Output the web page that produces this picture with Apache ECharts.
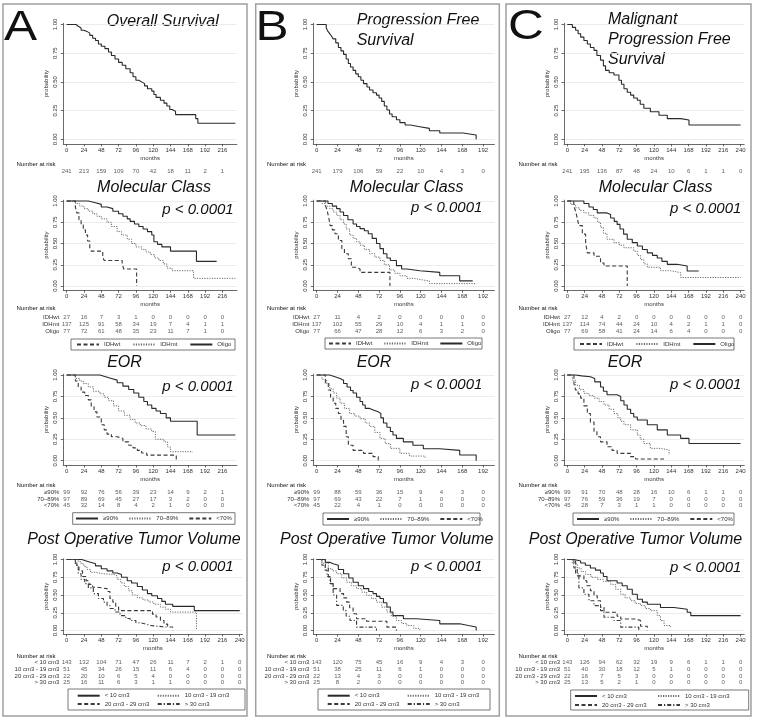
<!DOCTYPE html>
<html>
<head>
<meta charset="utf-8">
<script src="https://cdn.jsdelivr.net/npm/echarts@6/dist/echarts.min.js"></script>
<style>
  html, body { margin: 0; background: #fff; }
  #main { width: 758px; height: 722px; }
</style>
</head>
<body>
<div id="main"></div>
<script>
const FONT = '"Liberation Sans", Arial, sans-serif'
const INK = '#333'

// ticks
const yTicks = [0, 0.25, 0.5, 0.75, 1]
const ticks192 = [0, 24, 48, 72, 96, 120, 144, 168, 192]
const ticks216 = [0, 24, 48, 72, 96, 120, 144, 168, 192, 216]
const ticks240 = [0, 24, 48, 72, 96, 120, 144, 168, 192, 216, 240]

// groups
const molGroups = ['IDHwt', 'IDHmt', 'Oligo']
const eorGroups = ['≥90%', '70–89%', '<70%']
const volGroups = ['< 10 cm3', '10 cm3 - 19 cm3', '20 cm3 - 29 cm3', '> 30 cm3']
const molStyles = ['dash', 'dot', 'solid']
const eorStyles = ['solid', 'dot', 'dash']
const volStyles = ['solid', 'dot', 'dash', 'dashdot']

// A: overall survival  [months, probability]
const osAll = [[0,1],[13,0.985],[16,0.97],[20,0.95],[24,0.94],[28,0.925],[32,0.905],[36,0.88],[40,0.86],[44,0.83],[48,0.81],[53,0.79],[58,0.76],[62,0.73],[67,0.7],[72,0.67],[77,0.645],[82,0.615],[88,0.58],[92,0.545],[96,0.515],[100,0.5],[104,0.485],[108,0.465],[112,0.44],[118,0.42],[121,0.39],[124,0.365],[130,0.34],[135,0.315],[139,0.29],[143,0.26],[146,0.245],[151,0.215],[179,0.18],[182,0.14],[234,0.14]]
const osIDHwt = [[0,1],[12,0.93],[14,0.86],[17,0.78],[20,0.72],[23,0.66],[26,0.6],[29,0.53],[32,0.45],[34,0.41],[50,0.34],[52,0.3],[77,0.26],[79,0.2],[97,0]]
const osIDHmt = [[0,1],[12,0.97],[18,0.94],[24,0.91],[30,0.88],[36,0.85],[42,0.82],[48,0.79],[56,0.75],[62,0.7],[70,0.64],[76,0.6],[84,0.55],[90,0.5],[96,0.46],[104,0.43],[110,0.4],[116,0.37],[122,0.33],[128,0.3],[134,0.26],[139,0.21],[146,0.18],[176,0.09],[234,0.09]]
const osOligo = [[0,1],[30,0.98],[40,0.96],[48,0.93],[56,0.91],[64,0.88],[72,0.85],[78,0.82],[84,0.79],[88,0.76],[94,0.73],[100,0.7],[106,0.67],[112,0.64],[118,0.6],[121,0.52],[126,0.49],[132,0.46],[144,0.41],[180,0.29],[208,0.29]]
const osGe90 = [[0,1],[46,0.98],[54,0.96],[62,0.94],[70,0.91],[78,0.87],[86,0.83],[93,0.79],[100,0.74],[107,0.69],[112,0.65],[118,0.61],[124,0.58],[130,0.55],[138,0.5],[144,0.46],[181,0.3],[234,0.3]]
const os7089 = [[0,1],[12,0.96],[18,0.93],[23,0.9],[30,0.86],[37,0.81],[46,0.78],[52,0.74],[58,0.7],[65,0.64],[72,0.58],[80,0.53],[88,0.48],[95,0.44],[102,0.41],[110,0.37],[118,0.34],[123,0.25],[135,0.22],[140,0.16],[144,0.105],[175,0.105]]
const osLt70 = [[0,1],[12,0.93],[16,0.86],[20,0.8],[25,0.76],[30,0.71],[34,0.63],[38,0.57],[42,0.51],[48,0.42],[52,0.36],[56,0.31],[62,0.28],[70,0.26],[78,0.22],[86,0.18],[92,0.15],[98,0.12],[104,0.09],[111,0.065],[152,0]]
const osV10 = [[0,1],[21,0.98],[27,0.96],[33,0.94],[40,0.91],[48,0.87],[56,0.84],[64,0.81],[70,0.79],[76,0.75],[84,0.7],[90,0.67],[98,0.62],[105,0.57],[112,0.52],[118,0.49],[126,0.45],[132,0.41],[137,0.37],[147,0.34],[177,0.28],[240,0.28]]
const osV1019 = [[0,1],[16,0.97],[20,0.94],[24,0.9],[28,0.86],[33,0.82],[40,0.8],[50,0.79],[65,0.77],[70,0.72],[75,0.67],[80,0.62],[86,0.56],[91,0.5],[98,0.46],[106,0.43],[114,0.4],[121,0.37],[130,0.33],[137,0.3],[144,0.26],[180,0]]
const osV2029 = [[0,1],[14,0.92],[17,0.84],[22,0.76],[27,0.7],[31,0.65],[36,0.61],[42,0.59],[56,0.55],[60,0.45],[64,0.4],[68,0.33],[72,0.28],[119,0.23],[124,0.19],[130,0.14],[135,0.09],[140,0.05],[147,0]]
const osV30 = [[0,1],[12,0.92],[16,0.8],[20,0.72],[25,0.66],[30,0.6],[37,0.52],[44,0.45],[51,0.4],[56,0.35],[60,0.31],[67,0.26],[74,0.21],[82,0.17],[88,0.14],[96,0.11],[102,0.09],[110,0.07],[116,0.047],[140,0.047]]

// B: progression free survival
const pfsAll = [[0,1],[11,0.97],[13,0.94],[15,0.92],[17,0.9],[19,0.875],[22,0.84],[25,0.8],[28,0.77],[31,0.74],[34,0.7],[36.5,0.66],[39,0.63],[42,0.6],[45,0.57],[48,0.545],[51,0.515],[54,0.485],[58,0.455],[61,0.43],[65,0.405],[69,0.385],[72,0.36],[75,0.33],[78,0.29],[81,0.255],[84,0.22],[87,0.197],[92,0.17],[96,0.145],[102,0.125],[108,0.11],[119,0.095],[130,0.075],[142,0.055],[169,0.038],[184,0]]
const pfsIDHwt = [[0,1],[10,0.95],[12,0.89],[14,0.8],[15.5,0.71],[18,0.66],[21,0.615],[25,0.535],[29,0.44],[32,0.38],[36.5,0.32],[40,0.22],[46,0.2],[50,0.16],[84.5,0]]
const pfsIDHmt = [[0,1],[6,0.97],[10,0.94],[15,0.91],[19,0.87],[23,0.83],[27,0.78],[31,0.73],[34,0.67],[38,0.6],[42,0.56],[46,0.52],[50,0.48],[55,0.43],[61,0.38],[67,0.34],[73,0.3],[78,0.25],[84,0.19],[90,0.15],[96,0.12],[104,0.09],[112,0.07],[123,0.06],[130,0.028],[184,0.028]]
const pfsOligo = [[0,1],[13,0.97],[18,0.94],[23,0.91],[27,0.87],[31,0.83],[36,0.78],[42,0.73],[46,0.7],[50,0.675],[55,0.65],[59.5,0.615],[64,0.56],[69,0.5],[73,0.44],[77,0.38],[81,0.33],[85,0.3],[92,0.24],[98,0.2],[104,0.18],[119,0.16],[142,0.12],[165,0.06],[180,0.06]]
const pfsGe90 = [[0,1],[15,0.98],[21,0.96],[27,0.94],[31,0.9],[35,0.86],[39,0.82],[42,0.79],[46,0.74],[50,0.69],[53,0.65],[56,0.61],[61,0.59],[66,0.57],[71,0.55],[74,0.5],[77,0.44],[81,0.39],[85,0.34],[88,0.3],[92,0.26],[100,0.22],[111,0.18],[123,0.14],[142,0.12],[165,0.066],[184,0]]
const pfs7089 = [[0,1],[6,0.95],[11.5,0.9],[15,0.84],[19,0.79],[23,0.73],[27,0.67],[32,0.61],[38,0.55],[44,0.52],[50,0.49],[56,0.44],[61,0.4],[67,0.33],[73,0.26],[79,0.2],[85,0.144],[96,0.086],[107,0.054],[125,0.035]]
const pfsLt70 = [[0,1],[10,0.9],[13.4,0.825],[16,0.74],[19,0.67],[22,0.61],[25,0.55],[28,0.47],[31,0.4],[34,0.28],[36.5,0.18],[42,0.12],[54,0.086],[65,0.047],[71,0]]
const pfsV10 = [[0,1],[10,0.96],[15,0.94],[19,0.92],[25,0.86],[31,0.8],[37,0.74],[42,0.68],[48,0.63],[54,0.59],[60,0.55],[65,0.52],[69,0.48],[73,0.45],[77,0.39],[81,0.33],[85,0.26],[88,0.21],[100,0.165],[115,0.14],[142,0.094],[165,0.07],[175,0.05],[184,0]]
const pfsV1019 = [[0,1],[6,0.95],[13.4,0.87],[18,0.84],[23,0.8],[29,0.74],[34.6,0.68],[40,0.63],[46,0.59],[52,0.54],[57.6,0.495],[63,0.45],[69,0.4],[75,0.33],[81,0.26],[86,0.2],[92,0.14],[98,0.1],[104,0.07],[112,0.03],[119,0.01]]
const pfsV2029 = [[0,1],[10,0.88],[13.4,0.755],[16,0.66],[19,0.59],[27,0.52],[31,0.46],[34.6,0.4],[38,0.32],[42,0.235],[46,0.165],[57.6,0.13],[81,0.047],[92,0]]
const pfsV30 = [[0,1],[6,0.92],[9.6,0.85],[12,0.76],[15.4,0.66],[19,0.5],[23,0.354],[30.7,0.28],[34,0.2],[38.4,0.14],[46,0.047],[69,0]]

// C: malignant progression free survival
const mpfsAll = [[0,1],[7,0.975],[11.5,0.95],[15,0.92],[18.5,0.89],[23,0.86],[27.7,0.83],[32,0.8],[37,0.775],[41,0.73],[46,0.69],[50,0.64],[53,0.6],[58,0.58],[64.6,0.56],[71.5,0.515],[75,0.48],[78.5,0.44],[83,0.41],[87.7,0.385],[92,0.36],[97,0.34],[101,0.305],[106,0.27],[115,0.24],[127,0.21],[138.5,0.18],[157,0.168],[168.5,0.124],[240,0.124]]
const mpfsIDHwt = [[0,1],[9,0.94],[11.5,0.88],[14,0.79],[16,0.71],[20.8,0.61],[25.4,0.51],[27.7,0.39],[37,0.35],[46,0.27],[50.8,0.235],[83,0]]
const mpfsIDHmt = [[0,1],[4.6,0.96],[11.5,0.92],[17,0.89],[23,0.86],[30,0.83],[37,0.8],[42,0.75],[46,0.69],[50,0.62],[55,0.55],[64.6,0.51],[72,0.48],[78.5,0.45],[92,0.41],[97,0.36],[101.5,0.31],[106,0.26],[110.8,0.22],[129,0.18],[143,0.157],[157,0.1],[240,0.1]]
const mpfsOligo = [[0,1],[23,0.97],[30,0.93],[36,0.9],[41.5,0.86],[55,0.84],[60,0.8],[65,0.76],[69,0.725],[73,0.67],[78,0.61],[83,0.55],[90,0.51],[97,0.47],[104,0.43],[110.8,0.39],[118,0.36],[124.6,0.33],[131,0.29],[138.5,0.255],[152,0.235],[166,0.176],[182,0.176]]
const mpfsGe90 = [[0,1],[11.5,0.99],[20,0.98],[32,0.96],[38,0.92],[46,0.86],[50,0.81],[55,0.77],[69,0.75],[74,0.7],[78.5,0.65],[83,0.6],[87.7,0.55],[92,0.51],[97,0.475],[110.8,0.42],[124.6,0.36],[138.5,0.3],[157,0.26],[168.5,0.2],[240,0.2]]
const mpfs7089 = [[0,1],[7,0.94],[11.5,0.88],[17,0.83],[23,0.786],[30,0.76],[37,0.73],[44,0.69],[50.8,0.65],[58,0.6],[64.6,0.55],[70,0.5],[74,0.46],[78.5,0.42],[87.7,0.36],[97,0.3],[101,0.25],[106,0.2],[115,0.144],[129,0.125],[141,0.066]]
const mpfsLt70 = [[0,1],[9.2,0.9],[11.5,0.825],[15,0.78],[18.5,0.73],[23,0.64],[27.7,0.55],[32,0.45],[37,0.34],[41,0.28],[46,0.22],[55,0.163],[62,0.12],[69,0.086],[87.7,0.047],[94.6,0.02],[134,0.02]]
const mpfsV10 = [[0,1],[9.2,0.98],[18.5,0.95],[25,0.92],[32,0.88],[39,0.85],[46,0.81],[50,0.76],[55,0.7],[69,0.67],[76,0.63],[83,0.58],[90,0.51],[97,0.44],[104,0.4],[110.8,0.37],[129,0.325],[147.7,0.3],[166,0.256],[171,0.21],[240,0.21]]
const mpfsV1019 = [[0,1],[7,0.94],[13.8,0.88],[19,0.83],[25.4,0.79],[33,0.75],[41.5,0.72],[50,0.69],[60,0.65],[67,0.58],[74,0.51],[80,0.46],[87.7,0.42],[94,0.38],[101.5,0.35],[108,0.31],[115,0.28],[124.6,0.21],[129,0.14],[134,0.07],[143,0.047]]
const mpfsV2029 = [[0,1],[9.2,0.88],[13.8,0.77],[23,0.7],[27,0.63],[32,0.56],[37,0.49],[41.5,0.42],[46,0.326],[50.8,0.256],[69,0.2],[74,0.163],[94.6,0.14],[101.5,0.06],[110.8,0]]
const mpfsV30 = [[0,1],[11.5,0.8],[16,0.6],[23,0.51],[30,0.42],[37,0.35],[46,0.28],[50.8,0.186],[64.6,0.14],[74,0.047],[99,0]]

// number at risk
const riskOs = [[241, 213, 159, 109, 70, 42, 18, 11, 2, 1]]
const riskOsMol = [[27,16,7,3,1,0,0,0,0,0],[137,125,91,58,34,19,7,4,1,1],[77,72,61,48,35,23,11,7,1,0]]
const riskOsEor = [[99,92,76,56,39,23,14,9,2,1],[97,89,69,45,27,17,3,2,0,0],[45,32,14,8,4,2,1,0,0,0]]
const riskOsVol = [[143,132,104,71,47,26,11,7,2,1,0],[51,45,34,26,15,11,6,4,0,0,0],[22,20,10,6,5,4,0,0,0,0,0],[25,16,11,6,3,1,1,0,0,0,0]]
const riskPfs = [[241, 179, 106, 59, 22, 10, 4, 3, 0]]
const riskPfsMol = [[27,11,4,2,0,0,0,0,0],[137,102,55,29,10,4,1,1,0],[77,66,47,28,12,6,3,2,0]]
const riskPfsEor = [[99,88,59,36,15,9,4,3,0],[97,69,43,22,7,1,0,0,0],[45,22,4,1,0,0,0,0,0]]
const riskPfsVol = [[143,120,75,45,16,9,4,3,0],[51,38,25,11,6,1,0,0,0],[22,13,4,3,0,0,0,0,0],[25,8,2,0,0,0,0,0,0]]
const riskMpfs = [[241, 195, 136, 87, 48, 24, 10, 6, 1, 1, 0]]
const riskMpfsMol = [[27,12,4,2,0,0,0,0,0,0,0],[137,114,74,44,24,10,4,2,1,1,0],[77,69,58,41,24,14,6,4,0,0,0]]
const riskMpfsEor = [[99,91,70,48,28,16,10,6,1,1,0],[97,76,59,36,19,7,0,0,0,0,0],[45,28,7,3,1,1,0,0,0,0,0]]
const riskMpfsVol = [[143,126,94,62,32,19,9,6,1,1,0],[51,40,30,18,12,5,1,0,0,0,0],[22,16,7,5,3,0,0,0,0,0,0],[25,13,5,2,1,0,0,0,0,0,0]]

const LINE = {
  solid: { color: '#2a2a2a', width: 1.1, type: 'solid' },
  dot: { color: '#6a6a6a', width: 1, type: [1.2, 1.3] },
  dash: { color: '#3a3a3a', width: 1.1, type: [4, 2.5] },
  dashdot: { color: '#3a3a3a', width: 1.1, type: [4, 2, 1.2, 2] },
}

// layout
const Y_MAX = 1.01
const cols = {
  A: { left: 63.3, zero: 66.7, ppm: 17.3 / 24, head: 16.5 },
  B: { left: 313.3, zero: 316.7, ppm: 20.8 / 24, head: 267 },
  C: { left: 564, zero: 567.3, ppm: 17.33 / 24, head: 518.5 },
}
const rows = [
  { y1: 24.5, unit: 114.8, yMin: -0.04, head: 164, risk: 171.8, step: 7 },
  { y1: 201, unit: 85, yMin: -0.05, head: 308.5, risk: 317, step: 7 },
  { y1: 375, unit: 85.7, yMin: -0.05, head: 485.3, risk: 492.2, step: 6.8 },
  { y1: 559.5, unit: 71, yMin: -0.05, head: 656.5, risk: 662.8, step: 6.67 },
]

const panels = [
  { col: 'A', row: 0, xMax: 236, ticks: ticks216, curves: [osAll], names: ['OS'], styles: ['solid'], groups: [''], risk: riskOs },
  { col: 'B', row: 0, xMax: 205, ticks: ticks192, curves: [pfsAll], names: ['PFS'], styles: ['solid'], groups: [''], risk: riskPfs },
  { col: 'C', row: 0, xMax: 245, ticks: ticks240, curves: [mpfsAll], names: ['MPFS'], styles: ['solid'], groups: [''], risk: riskMpfs },

  { col: 'A', row: 1, xMax: 236, ticks: ticks216, curves: [osIDHwt, osIDHmt, osOligo], names: molGroups, styles: molStyles, groups: molGroups, risk: riskOsMol,
    box: [71, 339, 164, 11], legends: [{ data: molGroups, left: 76, cy: 344.5, gap: 12 }] },
  { col: 'B', row: 1, xMax: 205, ticks: ticks192, curves: [pfsIDHwt, pfsIDHmt, pfsOligo], names: molGroups, styles: molStyles, groups: molGroups, risk: riskPfsMol,
    box: [325, 338, 157, 11], legends: [{ data: molGroups, left: 328, cy: 343.5, gap: 11 }] },
  { col: 'C', row: 1, xMax: 245, ticks: ticks240, curves: [mpfsIDHwt, mpfsIDHmt, mpfsOligo], names: molGroups, styles: molStyles, groups: molGroups, risk: riskMpfsMol,
    box: [574, 338, 160, 12], legends: [{ data: molGroups, left: 579, cy: 344, gap: 12 }] },

  { col: 'A', row: 2, xMax: 236, ticks: ticks216, curves: [osGe90, os7089, osLt70], names: eorGroups, styles: eorStyles, groups: eorGroups, risk: riskOsEor,
    box: [72.7, 512.7, 162.3, 11.6], legends: [{ data: eorGroups, left: 75, cy: 518.5, gap: 10 }] },
  { col: 'B', row: 2, xMax: 205, ticks: ticks192, curves: [pfsGe90, pfs7089, pfsLt70], names: eorGroups, styles: eorStyles, groups: eorGroups, risk: riskPfsEor,
    box: [323, 513, 157, 12], legends: [{ data: eorGroups, left: 326, cy: 519, gap: 10 }] },
  { col: 'C', row: 2, xMax: 245, ticks: ticks240, curves: [mpfsGe90, mpfs7089, mpfsLt70], names: eorGroups, styles: eorStyles, groups: eorGroups, risk: riskMpfsEor,
    box: [573, 513, 161, 12], legends: [{ data: eorGroups, left: 576, cy: 519, gap: 10 }] },

  { col: 'A', row: 3, xMax: 244, ticks: ticks240, curves: [osV10, osV1019, osV2029, osV30], names: volGroups, styles: volStyles, groups: volGroups, risk: riskOsVol,
    box: [68, 689, 177, 21], legends: [
      { data: [volGroups[0], volGroups[2]], left: 76.7, cy: 695.7, orient: 'vertical', gap: 2.3 },
      { data: [volGroups[1], volGroups[3]], left: 156.7, cy: 695.7, orient: 'vertical', gap: 2.3 }] },
  { col: 'B', row: 3, xMax: 205, ticks: ticks192, curves: [pfsV10, pfsV1019, pfsV2029, pfsV30], names: volGroups, styles: volStyles, groups: volGroups, risk: riskPfsVol,
    box: [318, 689, 172, 21], legends: [
      { data: [volGroups[0], volGroups[2]], left: 326.7, cy: 695.7, orient: 'vertical', gap: 2.3 },
      { data: [volGroups[1], volGroups[3]], left: 406.7, cy: 695.7, orient: 'vertical', gap: 2.3 }] },
  { col: 'C', row: 3, xMax: 245, ticks: ticks240, curves: [mpfsV10, mpfsV1019, mpfsV2029, mpfsV30], names: volGroups, styles: volStyles, groups: volGroups, risk: riskMpfsVol,
    box: [570.7, 690, 178, 20], legends: [
      { data: [volGroups[0], volGroups[2]], left: 574, cy: 696, orient: 'vertical', gap: 3 },
      { data: [volGroups[1], volGroups[3]], left: 657, cy: 696, orient: 'vertical', gap: 3 }] },
]

const small = { fontSize: 6, color: INK, fontFamily: FONT }

function text(str, x, y, font, align, extra) {
  return Object.assign({
    type: 'text', silent: true,
    style: { text: str, x, y, font, fill: '#111', textAlign: align || 'left', align: align || 'left',
      textVerticalAlign: 'middle', verticalAlign: 'middle' },
  }, extra || {})
}

const grid = [], xAxis = [], yAxis = [], series = [], legend = []
const els = []
let gi = 0

panels.forEach(p => {
  const c = cols[p.col], r = rows[p.row]
  const xMin = -(c.zero - c.left) / c.ppm
  const width = (p.xMax - xMin) * c.ppm

  // survival plot
  grid.push({ left: c.left, top: r.y1 - (Y_MAX - 1) * r.unit, width, height: (Y_MAX - r.yMin) * r.unit, outerBoundsMode: 'none' })
  xAxis.push({
    gridIndex: gi, type: 'value', min: xMin, max: p.xMax,
    name: 'months', nameLocation: 'middle', nameGap: 11, nameTextStyle: small,
    axisLine: { show: true, onZero: false, lineStyle: { color: '#444', width: 0.8 } },
    axisTick: { show: true, length: 2.5, customValues: p.ticks, lineStyle: { color: '#444', width: 0.8 } },
    axisLabel: Object.assign({ customValues: p.ticks, margin: 3 }, small),
    splitLine: { show: false },
  })
  yAxis.push({
    gridIndex: gi, type: 'value', min: r.yMin, max: Y_MAX,
    name: 'probability', nameLocation: 'middle', nameGap: 14, nameRotate: 90, nameTextStyle: small,
    axisLine: { show: true, onZero: false, lineStyle: { color: '#444', width: 0.8 } },
    axisTick: { show: true, length: 2.5, customValues: yTicks, lineStyle: { color: '#444', width: 0.8 } },
    axisLabel: Object.assign({ customValues: yTicks, rotate: 90, margin: 5, formatter: v => v.toFixed(2) }, small),
    splitLine: { show: true, lineStyle: { color: '#e2e8ec', width: 0.8 } },
  })
  p.curves.forEach((d, k) => series.push({
    type: 'line', name: p.names[k], xAxisIndex: gi, yAxisIndex: gi, data: d,
    step: 'end', symbol: 'none', showSymbol: false, silent: true,
    lineStyle: LINE[p.styles[k]],
  }))
  gi++

  // number at risk table
  grid.push({ left: c.left, top: r.risk - r.step / 2, width, height: p.groups.length * r.step, outerBoundsMode: 'none' })
  xAxis.push({ gridIndex: gi, type: 'value', min: xMin, max: p.xMax, show: false })
  yAxis.push({
    gridIndex: gi, type: 'category', data: p.groups, inverse: true,
    axisLine: { show: false }, axisTick: { show: false }, splitLine: { show: false },
    axisLabel: Object.assign({ interval: 0, margin: 4 }, small),
  })
  const cells = []
  p.risk.forEach((vals, ri) => vals.forEach((v, k) => cells.push([p.ticks[k], ri, v])))
  series.push({
    type: 'scatter', name: 'risk', xAxisIndex: gi, yAxisIndex: gi, data: cells, silent: true,
    symbolSize: 1, itemStyle: { color: 'rgba(0,0,0,0)' },
    label: Object.assign({ show: true, position: 'inside', formatter: q => q.value[2] }, small),
  })
  gi++

  els.push(text('Number at risk', c.head, r.head, '6px ' + FONT, 'left'))

  // legends
  if (p.box) {
    els.push({ type: 'rect', silent: true, shape: { x: p.box[0], y: p.box[1], width: p.box[2], height: p.box[3] },
      style: { fill: 'none', stroke: '#555', lineWidth: 0.8 } })
    p.legends.forEach(l => legend.push({
      data: l.data, left: l.left, top: l.cy - 3, orient: l.orient || 'horizontal',
      itemGap: l.gap, itemWidth: 22, itemHeight: 6, padding: 0, selectedMode: false,
      itemStyle: { opacity: 0 },
      textStyle: Object.assign({ lineHeight: 6 }, small),
    }))
  }
})

// panel frames and letters
const frames = [[3, 4, 244, 712], [255.7, 4, 243.6, 712], [506, 4, 245, 712]]
frames.forEach(f => els.push({ type: 'rect', silent: true, shape: { x: f[0], y: f[1], width: f[2], height: f[3] },
  style: { fill: 'none', stroke: '#a0a0a0', lineWidth: 1.5 } }))
const letterFont = '42px ' + FONT
const letters = [['A', 4, 28], ['B', 255.5, 28], ['C', 508, 27]]
letters.forEach(t => els.push(text(t[0], 0, 0, letterFont, 'left', { x: t[1], y: t[2], scaleX: 1.18 })))

// titles
const tFont = 'italic 16px ' + FONT
const pFont = 'italic 15px ' + FONT
const titles = [
  ['Overall Survival', 106.7, 21.5, 'left'],
  ['Progression Free', 356.7, 21, 'left'], ['Survival', 356.7, 41, 'left'],
  ['Malignant', 608, 19.5, 'left'], ['Progression Free', 608, 39.5, 'left'], ['Survival', 608, 59.5, 'left'],
  ['Molecular Class', 154, 188, 'center'], ['Molecular Class', 406.7, 188, 'center'], ['Molecular Class', 655.6, 188, 'center'],
  ['EOR', 124.5, 363, 'center'], ['EOR', 374, 363, 'center'], ['EOR', 625, 363, 'center'],
  ['Post Operative Tumor Volume', 134, 540, 'center'], ['Post Operative Tumor Volume', 386.7, 540, 'center'], ['Post Operative Tumor Volume', 635.5, 540, 'center'],
]
titles.forEach(t => els.push(text(t[0], t[1], t[2], tFont, t[3])))
const pvals = [[198, 210], [198, 386.7], [198, 566.7], [446.7, 208.3], [446.7, 385], [446.7, 567.3], [705.7, 209.3], [705.7, 385], [705.7, 568.3]]
pvals.forEach(pv => els.push(text('p < 0.0001', pv[0], pv[1], pFont, 'center')))

const chart = echarts.init(document.getElementById('main'))
chart.setOption({
  animation: false,
  backgroundColor: '#fff',
  textStyle: { fontFamily: FONT },
  grid, xAxis, yAxis, series, legend,
  graphic: { elements: els },
})
</script>
</body>
</html>
